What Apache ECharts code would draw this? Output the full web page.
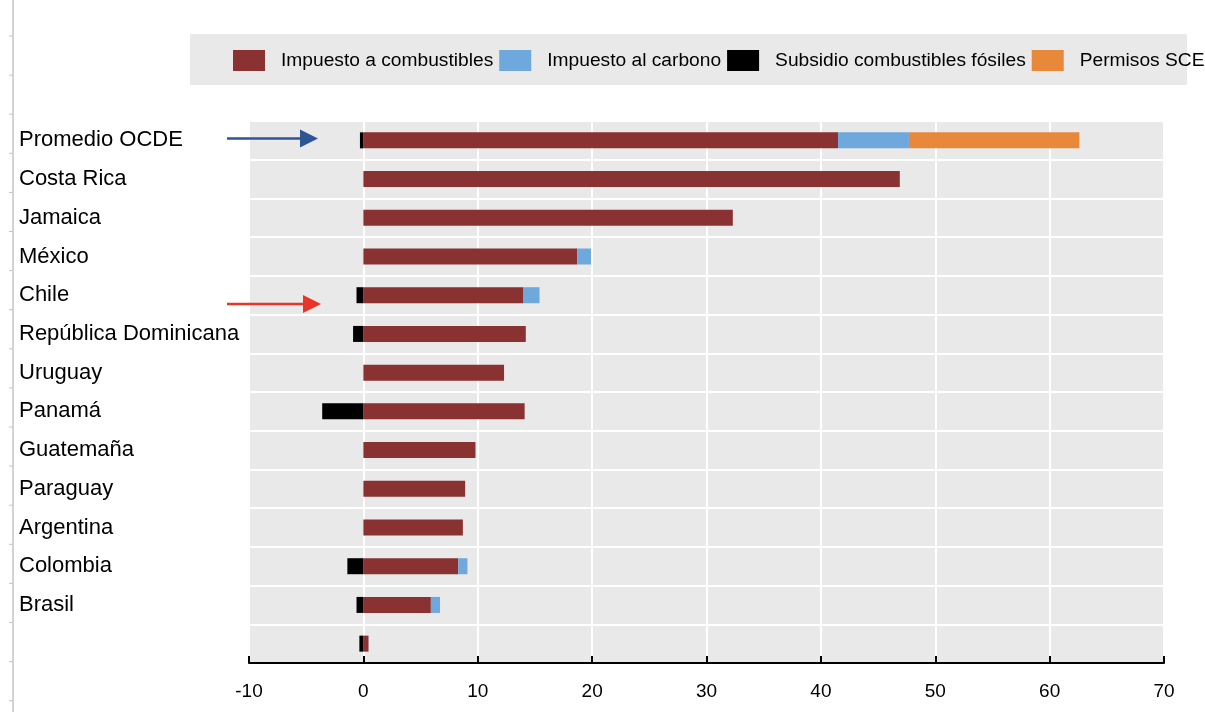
<!DOCTYPE html>
<html>
<head>
<meta charset="utf-8">
<script src="https://cdn.jsdelivr.net/npm/echarts@6/dist/echarts.min.js"></script>
<style>
  html, body { margin: 0; padding: 0; background: #ffffff; }
  #chart { width: 1205px; height: 712px; }
</style>
</head>
<body>
<div id="chart"></div>
<script>
// Countries, top to bottom (the last row carries no label)
const categories = ['Promedio OCDE', 'Costa Rica', 'Jamaica', 'México', 'Chile',
  'República Dominicana', 'Uruguay', 'Panamá', 'Guatemaña', 'Paraguay',
  'Argentina', 'Colombia', 'Brasil', ''];

const seriesNames = ['Impuesto a combustibles', 'Impuesto al carbono',
  'Subsidio combustibles fósiles', 'Permisos SCE'];

// Values per component (same order as categories)
const fuelTax    = [41.5, 46.9, 32.3, 18.7, 14.0, 14.2, 12.3, 14.1, 9.8, 8.9, 8.7, 8.3, 5.9, 0.45];
const carbonTax  = [6.2, 0, 0, 1.2, 1.4, 0, 0, 0, 0, 0, 0, 0.8, 0.8, 0];
const fossilSub  = [-0.3, 0, 0, 0, -0.6, -0.9, 0, -3.6, 0, 0, 0, -1.4, -0.6, -0.35];
const etsPermits = [14.9, 0, 0, 0, 0, 0, 0, 0, 0, 0, 0, 0, 0, 0];

const xTicks = { min: -10, max: 70, interval: 10 };

const FONT = '"Liberation Sans", Arial, sans-serif';
const colors = ['#8a3132', '#6fa8dc', '#000000', '#e8883a'];

const chart = echarts.init(document.getElementById('chart'), null, { renderer: 'canvas' });

function barSeries(name, data, color) {
  return {
    name: name,
    type: 'bar',
    stack: 'total',
    data: data,
    barWidth: 16,
    itemStyle: { color: color },
    emphasis: { disabled: true }
  };
}

// Ruler ticks along the left page edge
const rulerTicks = [];
for (let i = 0; i < 18; i++) {
  rulerTicks.push({
    type: 'line',
    shape: { x1: 9, y1: 36 + i * 39.1, x2: 13, y2: 36 + i * 39.1 },
    style: { stroke: '#c4c4c4', lineWidth: 1 },
    silent: true
  });
}

function arrow(y, x1, x2, color) {
  return [
    { type: 'line', shape: { x1: x1, y1: y, x2: x2 - 16, y2: y },
      style: { stroke: color, lineWidth: 2.5 }, silent: true, z: 10 },
    { type: 'polygon', shape: { points: [[x2 - 18, y - 9], [x2, y], [x2 - 18, y + 9]] },
      style: { fill: color }, silent: true, z: 10 }
  ];
}

const option = {
  animation: false,
  backgroundColor: '#ffffff',
  textStyle: { fontFamily: FONT },
  grid: { left: 249, right: 41, top: 121, bottom: 49, containLabel: false,
          show: true, backgroundColor: '#e9e9e9', borderWidth: 0 },
  legend: {
    data: seriesNames,
    left: 233,
    top: 50,
    width: 1000,
    padding: 0,
    itemWidth: 32,
    itemHeight: 21,
    itemGap: 6,
    icon: 'rect',
    selectedMode: false,
    textStyle: { fontFamily: FONT, fontSize: 19.2, color: '#000', padding: [0, 0, 0, 11] }
  },
  xAxis: {
    type: 'value',
    min: xTicks.min,
    max: xTicks.max,
    interval: xTicks.interval,
    axisLine: { show: true, onZero: false, lineStyle: { color: '#000', width: 2 } },
    axisTick: { show: true, inside: true, length: 7, lineStyle: { color: '#000', width: 2 } },
    axisLabel: { color: '#000', fontSize: 19, margin: 19, fontFamily: FONT },
    splitLine: { show: true, lineStyle: { color: '#ffffff', width: 2 } }
  },
  yAxis: {
    type: 'category',
    data: categories,
    inverse: true,
    axisLine: { show: false },
    axisTick: { show: false },
    axisLabel: { color: '#000', fontSize: 22, align: 'left', margin: 230,
                 padding: [0, 0, 6, 0], fontFamily: FONT },
    splitLine: { show: true, interval: 0, lineStyle: { color: '#ffffff', width: 2 } }
  },
  series: [
    barSeries(seriesNames[0], fuelTax, colors[0]),
    barSeries(seriesNames[1], carbonTax, colors[1]),
    barSeries(seriesNames[2], fossilSub, colors[2]),
    barSeries(seriesNames[3], etsPermits, colors[3])
  ],
  color: colors,
  graphic: [
    { type: 'rect', shape: { x: 190, y: 34, width: 997, height: 51 },
      style: { fill: '#e9e9e9' }, z: -10, silent: true },
    { type: 'line', shape: { x1: 13, y1: 0, x2: 13, y2: 712 },
      style: { stroke: '#c4c4c4', lineWidth: 1.5 }, silent: true },
    ...rulerTicks,
    ...arrow(138.5, 227, 318, '#2f5496'),
    ...arrow(304, 227, 321, '#e8352a')
  ]
};

chart.setOption(option);
</script>
</body>
</html>
